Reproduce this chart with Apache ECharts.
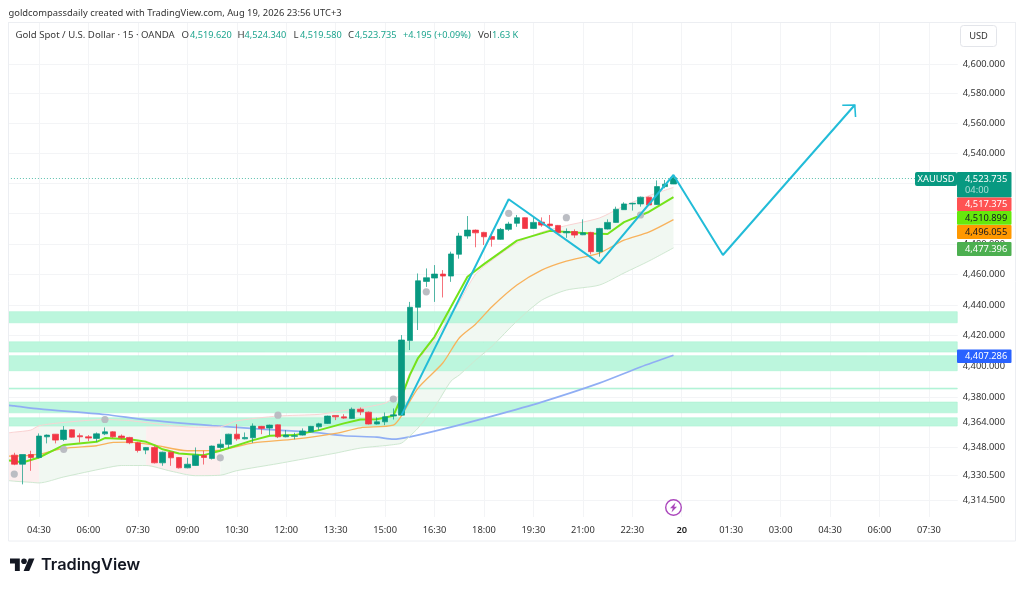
<!DOCTYPE html>
<html><head><meta charset="utf-8">
<style>html,body{margin:0;padding:0;background:#fff}#c{width:1024px;height:590px}</style>
<script src="https://cdn.jsdelivr.net/npm/echarts@6/dist/echarts.min.js"></script>
</head><body><div id="c"></div>
<script>
const categories = ["03:30","03:45","04:00","04:15","04:30","04:45","05:00","05:15","05:30","05:45","06:00","06:15","06:30","06:45","07:00","07:15","07:30","07:45","08:00","08:15","08:30","08:45","09:00","09:15","09:30","09:45","10:00","10:15","10:30","10:45","11:00","11:15","11:30","11:45","12:00","12:15","12:30","12:45","13:00","13:15","13:30","13:45","14:00","14:15","14:30","14:45","15:00","15:15","15:30","15:45","16:00","16:15","16:30","16:45","17:00","17:15","17:30","17:45","18:00","18:15","18:30","18:45","19:00","19:15","19:30","19:45","20:00","20:15","20:30","20:45","21:00","21:15","21:30","21:45","22:00","22:15","22:30","22:45","23:00","23:15","23:30","23:45","20","00:15","00:30","00:45","01:00","01:15","01:30","01:45","02:00","02:15","02:30","02:45","03:00","03:15","03:30","03:45","04:00","04:15","04:30","04:45","05:00","05:15","05:30","05:45","06:00","06:15","06:30","06:45","07:00","07:15","07:30","07:45","08:00","08:15"];
const open = [4343.4,4343.1,4337.3,4343.5,4341.6,4354.8,4356.5,4353.1,4359.3,4355.5,4354.8,4353.8,4356.7,4358.0,4355.3,4354.4,4351.0,4346.3,4348.0,4338.2,4345.0,4341.6,4335.0,4336.5,4342.9,4341.0,4348.0,4350.0,4356.5,4353.5,4354.2,4361.5,4360.4,4362.5,4354.8,4355.1,4355.9,4358.0,4361.2,4363.4,4368.5,4367.6,4366.6,4372.5,4370.6,4363.0,4364.4,4368.1,4368.7,4416.8,4438.5,4455.4,4457.6,4460.2,4458.9,4473.2,4485.2,4489.1,4487.6,4484.9,4483.0,4489.6,4493.6,4497.3,4490.2,4494.4,4493.1,4492.2,4487.3,4488.2,4486.0,4487.6,4474.9,4489.8,4494.2,4502.6,4506.4,4506.4,4510.9,4506.0,4517.9,4519.62];
const close = [4342.6,4337.3,4343.5,4341.6,4355.3,4355.9,4352.7,4359.1,4354.6,4354.8,4354.0,4356.7,4358.0,4354.8,4354.2,4351.0,4346.1,4348.0,4338.2,4345.0,4341.4,4335.0,4337.3,4343.1,4341.6,4348.9,4350.1,4356.5,4353.5,4354.4,4361.7,4360.2,4362.3,4354.8,4355.9,4355.5,4358.5,4361.5,4363.1,4368.1,4367.6,4366.8,4372.5,4370.8,4363.0,4364.4,4367.6,4368.9,4417.2,4438.5,4455.8,4457.8,4460.2,4458.9,4473.4,4485.2,4489.1,4487.3,4484.7,4483.0,4489.6,4493.1,4497.3,4490.2,4494.2,4492.4,4492.0,4487.3,4488.2,4485.8,4487.3,4474.9,4490.2,4494.2,4502.9,4506.4,4506.8,4510.9,4505.7,4517.9,4519.5,4523.735];
const low = [4342.0,4336.7,4324.5,4333.1,4341.0,4350.6,4350.6,4352.1,4354.3,4351.2,4352.1,4351.6,4355.9,4354.2,4353.2,4350.1,4344.8,4343.7,4337.8,4336.3,4336.3,4334.6,4334.7,4336.2,4337.1,4340.3,4346.8,4347.4,4352.3,4353.2,4351.0,4356.5,4355.9,4354.0,4354.5,4353.2,4355.6,4357.8,4359.1,4363.0,4365.5,4366.3,4366.3,4368.7,4362.7,4362.7,4362.3,4365.9,4368.5,4410.7,4423.7,4451.8,4442.0,4444.9,4455.1,4470.3,4483.4,4477.8,4479.3,4478.2,4482.7,4488.6,4491.3,4490.0,4490.0,4491.3,4490.2,4487.0,4484.0,4484.0,4485.8,4473.2,4471.6,4489.5,4494.0,4502.4,4502.0,4504.6,4505.4,4505.7,4516.8,4519.58];
const high = [4344.0,4344.6,4343.5,4345.9,4357.0,4356.3,4356.6,4361.7,4359.6,4357.0,4355.9,4357.6,4360.8,4358.4,4356.3,4354.8,4351.6,4348.3,4348.9,4345.3,4345.3,4341.9,4341.4,4348.0,4345.9,4349.2,4353.2,4356.8,4362.9,4357.6,4363.4,4361.8,4362.6,4362.8,4359.1,4357.4,4360.2,4361.8,4363.8,4368.4,4368.7,4369.3,4373.6,4373.6,4371.0,4367.2,4370.4,4373.0,4420.4,4442.0,4460.6,4463.9,4466.1,4462.8,4474.9,4487.3,4498.4,4489.5,4488.0,4488.0,4490.5,4494.6,4499.1,4497.6,4498.0,4497.5,4499.1,4492.5,4490.2,4489.6,4496.2,4488.0,4490.6,4496.2,4504.6,4507.5,4507.2,4511.3,4511.2,4522.0,4522.3,4524.34];

const emaIdx = [0,1,2,4,7,11,12,15,17,18,19,21,24,26,30,32,35,38,41,43,45,47,48,49,50,52,53,54,56,58,62,66,71,73,75,78,81];
const emaVal = [4339.9,4339.3,4338.4,4341.6,4349.5,4351.6,4354.0,4353.3,4351.6,4349.5,4346.8,4344.2,4343.1,4345.9,4352.7,4355.5,4355.9,4359.1,4363.4,4365.9,4366.1,4368.3,4380.5,4394.5,4405.5,4419.3,4429.1,4438.8,4458.4,4466.7,4482.2,4488.6,4486.8,4486.5,4494.4,4501.1,4510.899];
const midIdx = [0,1,4,7,11,13,15,18,22,26,30,35,40,43,47,48,50,53,55,57,59,62,65,68,72,75,78,81];
const midVal = [4342.5,4342.5,4343.7,4347.4,4349.1,4351.2,4351.4,4349.5,4345.9,4346.3,4350.9,4353.3,4357.0,4360.6,4362.3,4368.4,4386.1,4402.3,4418.5,4427.6,4439.0,4453.0,4462.8,4468.7,4474.0,4482.5,4487.8,4496.055];
const maIdx = [0,1,4,12,17,25,31,37,41,45,47,49,53,59,65,72,77,81];
const maVal = [4375.1,4374.6,4372.7,4369.1,4365.7,4362.0,4359.7,4357.8,4355.5,4354.6,4353.3,4354.8,4359.7,4368.1,4377.1,4389.3,4399.7,4407.286];
const bandIdx = [0,1,3,4,7,12,14,15,17,20,23,26,28,33,38,40,43,46,47,48,49,50,52,54,55,57,59,62,65,68,72,75,78,81];
const bandUpper = [4357.2,4357.8,4359.1,4361.9,4364.0,4365.9,4365.5,4365.2,4363.9,4362.0,4361.0,4361.2,4365.0,4368.1,4369.2,4370.8,4373.2,4376.4,4379.6,4381.6,4395.8,4404.2,4417.2,4433.4,4441.9,4460.2,4469.4,4480.6,4487.8,4492.1,4497.1,4505.1,4511.8,4517.375];
const bandLower = [4327.1,4326.5,4325.8,4325.4,4329.2,4334.8,4336.5,4336.5,4336.5,4332.9,4330.0,4330.3,4333.2,4337.7,4342.5,4344.4,4347.6,4349.2,4349.8,4350.8,4355.3,4360.4,4373.8,4390.6,4394.5,4404.2,4413.3,4429.5,4443.1,4449.7,4453.0,4460.9,4468.7,4477.396];
const fillFrom = [0,4,17,26];
const fillTo = [4,17,26,81];
const fillKind = [0,1,0,1];
const dotIdx = [1,7,12,26,33,47,51,61,68,77];
const dotVal = [4331,4346.8,4365.9,4341.4,4368.7,4379,4448.6,4500.2,4497.3,4499.1];
const pathIdx = [48,61,72,81,87,103];
const pathVal = [4368.7,4509.5,4467.2,4525.6,4472.7,4572.4];
const zoneHigh = [4435.6,4416.0,4407.0,4386.1,4377.1,4367.0];
const zoneLow = [4428.4,4409.4,4397.3,4385.5,4370.2,4361.7];
const priceTicks = [4600,4580,4560,4540,4520,4500,4480,4460,4440,4420,4400,4380,4364,4348,4330.5,4314.5];
const lastPrice = 4523.735;

const FONT = '"Noto Sans"';
const UP = '#089981', DOWN = '#f23645';
const fmt = v => Number(v).toLocaleString('en-US', {minimumFractionDigits:3, maximumFractionDigits:3});
const pairs = (ix, vals) => ix.map((i,k)=>[i, vals[k]]);

const candles = open.map((o,i)=>[o, close[i], low[i], high[i]]);

function txt(x,y,t,fill,size,extra){
  return {type:'text', z:100, x, y, style:Object.assign({text:t, fill, font:`${size||9.3}px ${FONT}`, textVerticalAlign:'middle'}, extra||{})};
}
function box(x,y,w,h,fill,r){
  return {type:'rect', z:99, shape:{x,y,width:w,height:h,r:r==null?1:r}, style:{fill}};
}
const frameColor = '#eceef2';
const LG = '#3a3a3a', LV = '#1fa58f';
const g = [
  {type:'rect', z:98, shape:{x:0,y:0,width:8.5,height:590}, style:{fill:'#fff'}},
  {type:'line', z:99, shape:{x1:8.5,y1:22,x2:8.5,y2:541}, style:{stroke:frameColor,lineWidth:1}},
  {type:'line', z:99, shape:{x1:8.5,y1:22.5,x2:1015.5,y2:22.5}, style:{stroke:frameColor,lineWidth:1}},
  {type:'line', z:99, shape:{x1:1015.5,y1:22,x2:1015.5,y2:541}, style:{stroke:frameColor,lineWidth:1}},
  {type:'line', z:99, shape:{x1:8.5,y1:541,x2:1015.5,y2:541}, style:{stroke:frameColor,lineWidth:1}},
  txt(8.5,13,'goldcompassdaily created with TradingView.com, Aug 19, 2026 23:56 UTC+3','#333',9.4),
  txt(15.5,35,'Gold Spot / U.S. Dollar · 15 · OANDA',LG,9.6),
  txt(181.5,35,'O',LG,9.6), txt(190,35,'4,519.620',LV,9.2),
  txt(237.5,35,'H',LG,9.6), txt(244.5,35,'4,524.340',LV,9.2),
  txt(293.5,35,'L',LG,9.6), txt(300,35,'4,519.580',LV,9.2),
  txt(348,35,'C',LG,9.6), txt(354.7,35,'4,523.735',LV,9.2),
  txt(403,35,'+4.195 (+0.09%)',LV,9.2),
  txt(478,35,'Vol',LG,9.6), txt(492,35,'1.63 K',LV,9.2),
  {type:'rect', z:99, shape:{x:960.5,y:25.5,width:36,height:21,r:3}, style:{fill:'#fff',stroke:'#e3e5ea',lineWidth:1}},
  txt(978.5,36,'USD','#333',9.3,{textAlign:'center'}),
  box(915,172,42,14,UP,2), txt(936,179.5,'XAUUSD','#fff',9.3,{textAlign:'center'}),
  box(957,172,54.5,25.5,UP), txt(965,179.5,'4,523.735','#fff'), txt(965,190.5,'04:00','rgba(255,255,255,.65)'),
  box(957,197.5,54.5,13.5,'#ff5252'), txt(965,204.5,'4,517.375','#fff'),
  box(957,211,54.5,13.7,'#66e80c'), txt(965,218,'4,510.899','#131722'),
  box(957,225,54.5,14,'#ff9800'), txt(965,232,'4,496.055','#131722'),
  box(957,242,54.5,14,'#4caf50'), txt(965,249,'4,477.396','#fff'),
  box(957,349.5,54.5,13.5,'#2962ff'), txt(965,356.3,'4,407.286','#fff'),
  {type:'circle', z:99, shape:{cx:673.5,cy:507.5,r:7.8}, style:{fill:'#fff',stroke:'#ab47bc',lineWidth:1.4}},
  {type:'polygon', z:100, shape:{points:[[675.5,502.5],[670,508.3],[672.8,508.3],[671.5,512.5],[677,506.7],[674.2,506.7]]}, style:{fill:'#ab47bc'}},
  {type:'polygon', z:100, shape:{points:[[10,558.5],[19.8,558.5],[19.8,571.1],[14.9,571.1],[14.9,563.4],[10,563.4]]}, style:{fill:'#131722'}},
  {type:'polygon', z:100, shape:{points:[[29.2,571.1],[23.6,571.1],[28.85,558.5],[34.45,558.5]]}, style:{fill:'#131722'}},
  {type:'circle', z:100, shape:{cx:24,cy:561.3,r:2.8}, style:{fill:'#131722'}},
  {type:'text', z:100, x:41,y:565.5, style:{text:'TradingView', fill:'#131722', font:`600 16.3px Inter`, textVerticalAlign:'middle'}}
];

const chart = echarts.init(document.getElementById('c'), null, {renderer:'canvas'});
const lineSer = (name,data,color,width,z,smooth) => ({name,type:'line',data,symbol:'none',z,silent:true,
  lineStyle:{color,width},itemStyle:{color},connectNulls:true,animation:false,clip:false,
  smooth:smooth||false});
const labelAt = i => i%6===4;

chart.setOption({
  animation:false, backgroundColor:'#fff', graphic:g,
  grid:{left:1.92, right:66.24, top:22, bottom:73, containLabel:false},
  xAxis:{type:'category', data:categories, boundaryGap:true,
    axisLine:{show:false}, axisTick:{show:false, alignWithLabel:true},
    splitLine:{show:true, alignWithLabel:true, interval:labelAt, lineStyle:{color:'#f3f4f6',width:1}},
    axisLabel:{interval:labelAt, margin:9, color:'#333', fontFamily:FONT, fontSize:9.3,
      formatter:v=>v==='20'?'{b|20}':v, rich:{b:{fontWeight:600,fontFamily:FONT,fontSize:9.3,color:'#222'}}}},
  yAxis:{type:'log', logBase:10, position:'right', min:4303.8, max:4628.5, scale:true,
    axisLine:{show:false},
    axisTick:{show:false, customValues:priceTicks},
    splitLine:{show:true, lineStyle:{color:'#f3f4f6',width:1}},
    minorTick:{show:false}, minorSplitLine:{show:false},
    axisLabel:{customValues:priceTicks, margin:5, color:'#333', fontFamily:FONT, fontSize:9.3, padding:[3,0,0,0], formatter:v=>fmt(v)}},
  series:[
    {type:'custom', z:1, silent:true, clip:true, data:fillFrom.map((f,i)=>[f,fillTo[i],fillKind[i]]), encode:{x:0,y:[]},
      renderItem(p,api){
        const from=api.value(0), to=api.value(1), kind=api.value(2);
        const top=[],bot=[];
        bandIdx.forEach((ix,k)=>{ if(ix>=from&&ix<=to){ top.push(api.coord([ix,bandUpper[k]])); bot.unshift(api.coord([ix,bandLower[k]])); }});
        return {type:'polygon', shape:{points:top.concat(bot)}, style:{fill:kind?'#f1f8f2':'#fdefef'}};
      }},
    {type:'custom', z:2, silent:true, data:zoneHigh.map((h,i)=>[0,h,zoneLow[i]]), encode:{x:0,y:[1,2]},
      renderItem(p,api){
        const y1=api.coord([0,api.value(1)])[1], y2=api.coord([0,api.value(2)])[1];
        const cs=p.coordSys;
        return {type:'rect', shape:{x:cs.x+7.1,y:y1,width:cs.width-7.6,height:y2-y1},
          style:{fill:'#bcf6dd',stroke:'#a9f2d2',lineWidth:0.6}};
      }},
    lineSer('MA',pairs(maIdx,maVal),'#90aef4',1.7,3,0.25),
    lineSer('Upper',pairs(bandIdx,bandUpper),'#fad3d3',1,3,0.25),
    lineSer('Lower',pairs(bandIdx,bandLower),'#cfe8d1',1,3,0.25),
    lineSer('Mid',pairs(midIdx,midVal),'#f8b25c',1.3,3,0.25),
    lineSer('EMA',pairs(emaIdx,emaVal),'#74e31a',2,3),
    {type:'candlestick', z:4, silent:true, data:candles, barWidth:6, clip:true,
      itemStyle:{color:UP,color0:DOWN,borderColor:UP,borderColor0:DOWN,borderWidth:0.7},
      markLine:{silent:true, symbol:'none', animation:false, label:{show:false},
        lineStyle:{color:'#5cc0ae',type:[1,2],width:1},
        data:[{yAxis:lastPrice}]}},
    {type:'scatter', z:5, silent:true, data:pairs(dotIdx,dotVal), symbolSize:7.2, itemStyle:{color:'#b7b9c0',opacity:.95}},
    lineSer('Path',pairs(pathIdx,pathVal),'#22bcd8',2,6),
    {type:'custom', z:6, silent:true, data:[[pathIdx[5],pathVal[5]]], encode:{x:0,y:1},
      renderItem(p,api){
        const c=api.coord([api.value(0),api.value(1)]);
        return {type:'polyline', shape:{points:[[c[0]-12.5,c[1]+0.3],[c[0],c[1]],[c[0]+0.8,c[1]+12]]},
          style:{fill:'none',stroke:'#22bcd8',lineWidth:1.6}};
      }}
  ]
});
</script></body></html>
